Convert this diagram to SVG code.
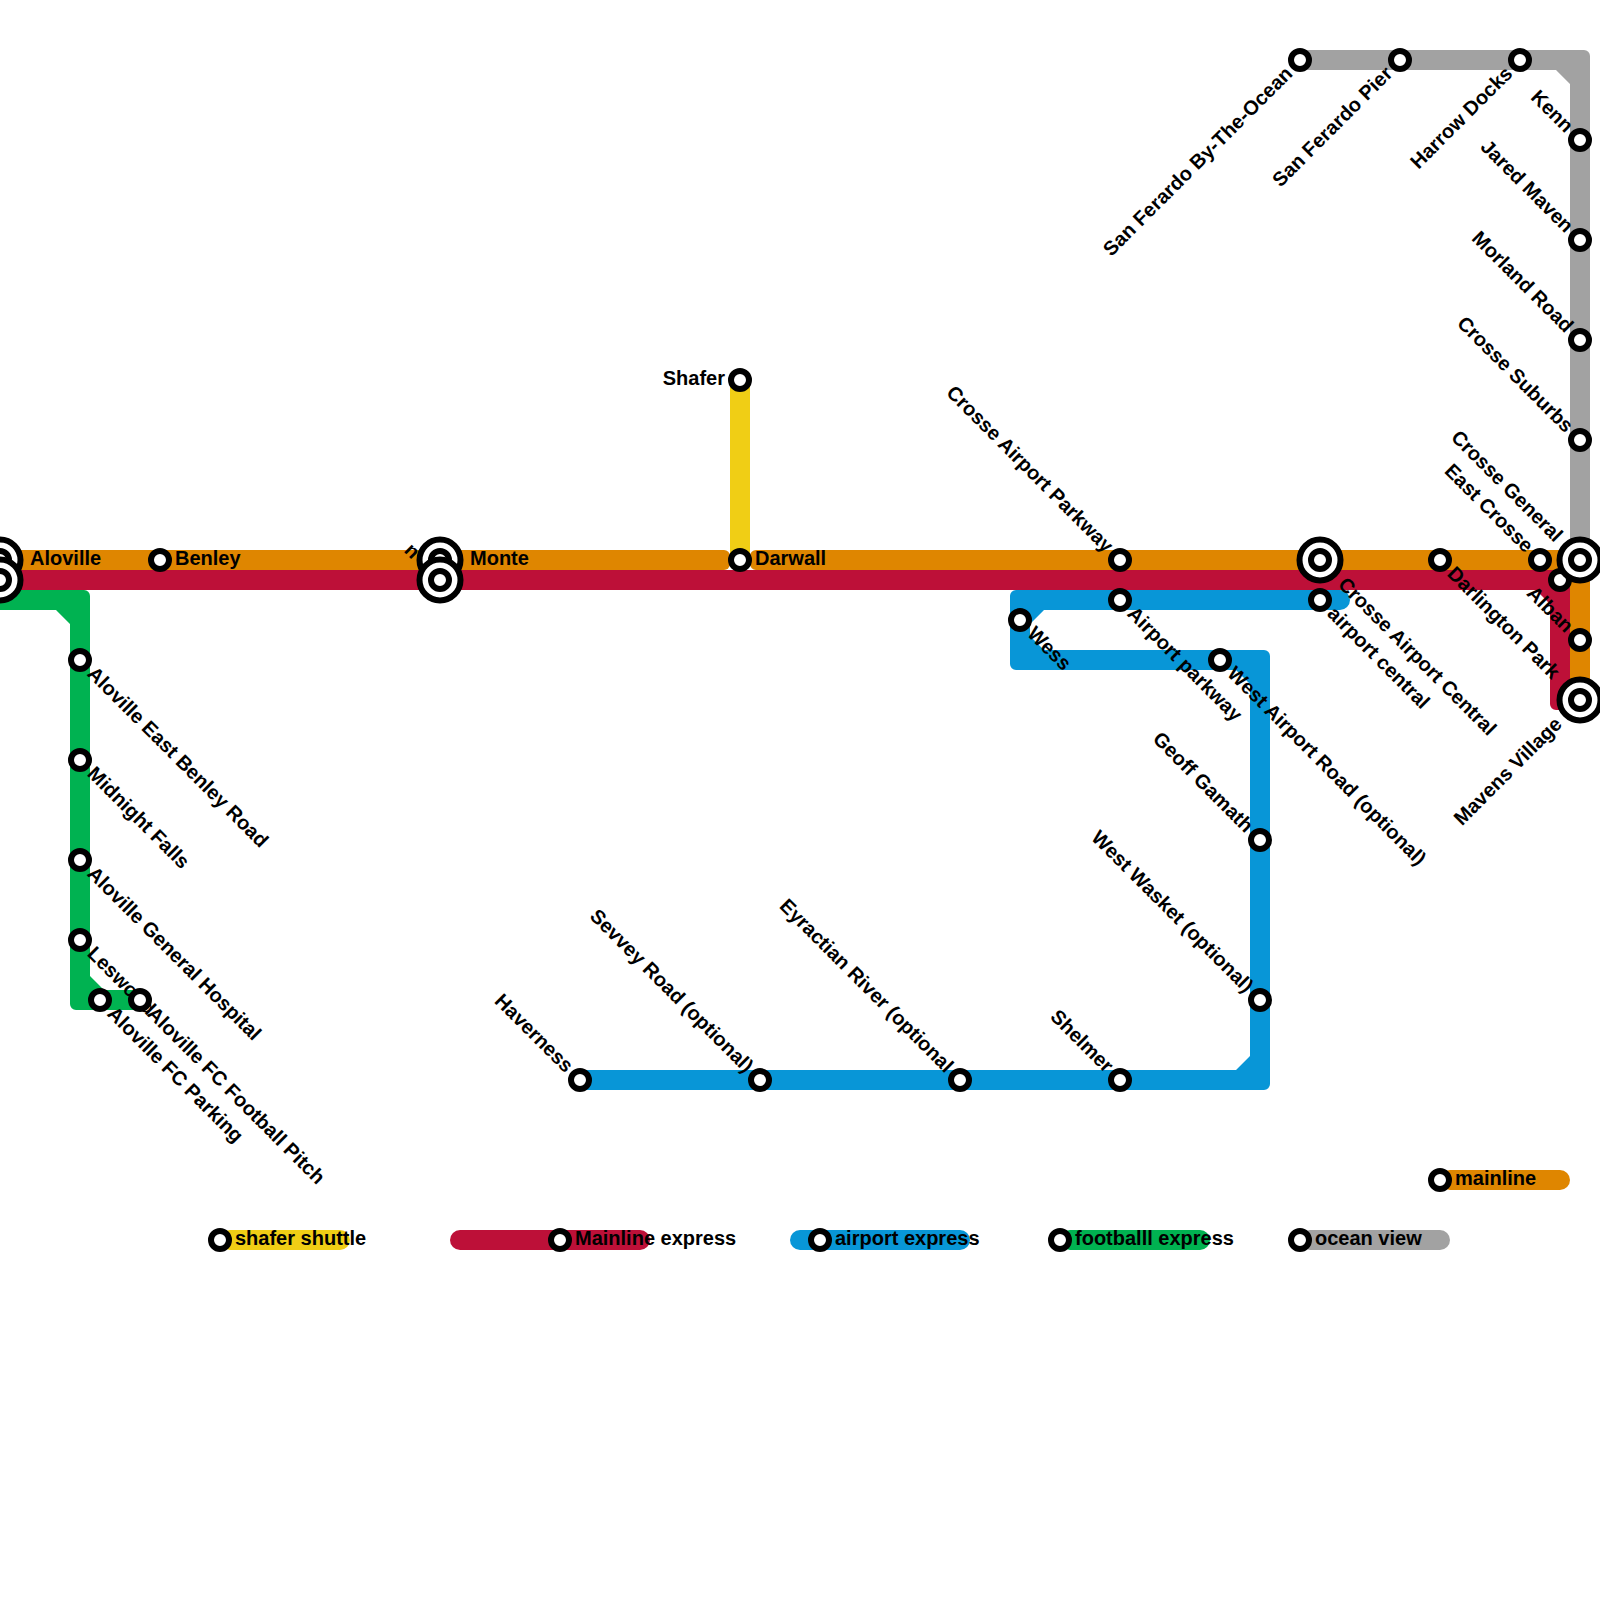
<svg xmlns="http://www.w3.org/2000/svg" width="1600" height="1600" viewBox="0 0 1600 1600">
<style>
text{font-family:"Liberation Sans",Arial,sans-serif;font-weight:bold;font-size:20px;fill:#000}
.o{fill:#df8600}.r{fill:#bd1038}.b{fill:#0896d7}.g{fill:#00b251}.y{fill:#f0ce15}.a{fill:#a2a2a2}
.ring{fill:#fff;stroke:#000;stroke-width:6}
.e{text-anchor:end}
</style>
<defs>
<circle id="s" class="ring" r="9"/>
<g id="B"><circle class="ring" r="20.500"/><circle class="ring" r="9"/></g>
</defs>
<g id="connectors">
<path id="line-ocean" class="a" d="M1300 50H1584a6 6 0 0 1 6 6V560H1570V84L1556 70H1300Z"/>
<path id="line-express" class="r" d="M-20 570H1570V710H1556a6 6 0 0 1-6-6V604L1536 590H-20Z"/>
<path id="line-main-a" class="o" d="M-20 550H724a6 6 0 0 1 6 6V564a6 6 0 0 1-6 6H-20Z"/>
<path id="line-main-b" class="o" d="M756 550H1590V700H1570V570H756a6 6 0 0 1-6-6V556a6 6 0 0 1 6-6Z"/>
<rect id="line-shuttle" class="y" x="730" y="370" width="20" height="200" rx="6"/>
<path id="line-airport" class="b" d="M1340 590a10 10 0 0 1 0 20H1044L1030 624V636L1044 650H1264a6 6 0 0 1 6 6V1084a6 6 0 0 1-6 6H580a10 10 0 0 1 0-20H1236L1250 1056V684L1236 670H1016a6 6 0 0 1-6-6V596a6 6 0 0 1 6-6Z"/>
<path id="line-football" class="g" d="M-20 590H84a6 6 0 0 1 6 6V976L104 990H140a10 10 0 0 1 0 20H76a6 6 0 0 1-6-6V624L56 610H-20Z"/>
<rect class="y" x="220" y="1230" width="130" height="20" rx="10"/>
<rect class="r" x="450" y="1230" width="200" height="20" rx="10"/>
<rect class="b" x="790" y="1230" width="180" height="20" rx="10"/>
<rect class="g" x="1060" y="1230" width="150" height="20" rx="10"/>
<rect class="a" x="1300" y="1230" width="150" height="20" rx="10"/>
<rect class="o" x="1440" y="1170" width="130" height="20" rx="10"/>
</g>
<g id="labels-hidden"><text transform="translate(411 550.500) rotate(45)" x="-5" y="6">n</text></g>
<g id="aloville"><use href="#B" x="0" y="560"/><text x="30" y="565">Aloville</text></g>
<g id="aloville-2"><use href="#B" x="0" y="580"/></g>
<g id="benley"><use href="#s" x="160" y="560"/><text x="175" y="565">Benley</text></g>
<g id="monte"><use href="#B" x="440" y="560"/><text x="470" y="565">Monte</text></g>
<g id="monte-2"><use href="#B" x="440" y="580"/></g>
<g id="darwall"><use href="#s" x="740" y="560"/><text x="755" y="565">Darwall</text></g>
<g id="shafer"><use href="#s" x="740" y="380"/><text x="725" y="385" class="e">Shafer</text></g>
<g id="east-benley"><use href="#s" x="80" y="660"/><text transform="translate(80 660) rotate(45)" x="15" y="6">Aloville East Benley Road</text></g>
<g id="midnight"><use href="#s" x="80" y="760"/><text transform="translate(80 760) rotate(45)" x="15" y="6">Midnight Falls</text></g>
<g id="general-hospital"><use href="#s" x="80" y="860"/><text transform="translate(80 860) rotate(45)" x="15" y="6">Aloville General Hospital</text></g>
<g id="leswood"><use href="#s" x="80" y="940"/><text transform="translate(80 940) rotate(45)" x="15" y="6">Leswood</text></g>
<g id="fc-parking"><use href="#s" x="100" y="1000"/><text transform="translate(100 1000) rotate(45)" x="15" y="6">Aloville FC Parking</text></g>
<g id="fc-pitch"><use href="#s" x="140" y="1000"/><text transform="translate(140 1000) rotate(45)" x="15" y="6">Aloville FC Football Pitch</text></g>
<g id="haverness"><use href="#s" x="580" y="1080"/><text transform="translate(580 1080) rotate(45)" x="-15" y="6" class="e">Haverness</text></g>
<g id="sevvey"><use href="#s" x="760" y="1080"/><text transform="translate(760 1080) rotate(45)" x="-15" y="6" class="e">Sevvey Road (optional)</text></g>
<g id="eyractian"><use href="#s" x="960" y="1080"/><text transform="translate(960 1080) rotate(45)" x="-15" y="6" class="e">Eyractian River (optional</text></g>
<g id="shelmer"><use href="#s" x="1120" y="1080"/><text transform="translate(1120 1080) rotate(45)" x="-15" y="6" class="e">Shelmer</text></g>
<g id="west-wasket"><use href="#s" x="1260" y="1000"/><text transform="translate(1260 1000) rotate(45)" x="-15" y="6" class="e">West Wasket (optional)</text></g>
<g id="geoff"><use href="#s" x="1260" y="840"/><text transform="translate(1260 840) rotate(45)" x="-15" y="6" class="e">Geoff Gamath</text></g>
<g id="wess"><use href="#s" x="1020" y="620"/><text transform="translate(1020 620) rotate(45)" x="15" y="6">Wess</text></g>
<g id="west-airport"><use href="#s" x="1220" y="660"/><text transform="translate(1220 660) rotate(45)" x="15" y="6">West Airport Road (optional)</text></g>
<g id="airport-parkway"><use href="#s" x="1120" y="600"/><text transform="translate(1120 600) rotate(45)" x="15" y="6">Airport parkway</text></g>
<g id="crosse-airport-parkway"><use href="#s" x="1120" y="560"/><text transform="translate(1120 560) rotate(45)" x="-15" y="6" class="e">Crosse Airport Parkway</text></g>
<g id="airport-central"><use href="#s" x="1320" y="600"/><text transform="translate(1320 600) rotate(45)" x="15" y="6">airport central</text></g>
<g id="crosse-airport-central"><use href="#B" x="1320" y="560"/><text transform="translate(1320 560) rotate(45)" x="30" y="6">Crosse Airport Central</text></g>
<g id="darlington"><use href="#s" x="1440" y="560"/><text transform="translate(1440 560) rotate(45)" x="15" y="6">Darlington Park</text></g>
<g id="east-crosse"><use href="#s" x="1540" y="560"/><text transform="translate(1540 560) rotate(45)" x="-15" y="6" class="e">East Crosse</text></g>
<g id="station-1560"><use href="#s" x="1560" y="580"/></g>
<g id="crosse-general"><use href="#B" x="1580" y="560"/><text transform="translate(1580 560) rotate(45)" x="-30" y="6" class="e">Crosse General</text></g>
<g id="alban"><use href="#s" x="1580" y="640"/><text transform="translate(1580 640) rotate(45)" x="-15" y="6" class="e">Alban</text></g>
<g id="mavens"><use href="#B" x="1580" y="700"/><text transform="translate(1580 700) rotate(-45)" x="-30" y="6" class="e">Mavens Village</text></g>
<g id="crosse-suburbs"><use href="#s" x="1580" y="440"/><text transform="translate(1580 440) rotate(45)" x="-15" y="6" class="e">Crosse Suburbs</text></g>
<g id="morland"><use href="#s" x="1580" y="340"/><text transform="translate(1580 340) rotate(45)" x="-15" y="6" class="e">Morland Road</text></g>
<g id="jared"><use href="#s" x="1580" y="240"/><text transform="translate(1580 240) rotate(45)" x="-15" y="6" class="e">Jared Maven</text></g>
<g id="kenn"><use href="#s" x="1580" y="140"/><text transform="translate(1580 140) rotate(45)" x="-15" y="6" class="e">Kenn</text></g>
<g id="harrow"><use href="#s" x="1520" y="60"/><text transform="translate(1520 60) rotate(-45)" x="-15" y="6" class="e">Harrow Docks</text></g>
<g id="pier"><use href="#s" x="1400" y="60"/><text transform="translate(1400 60) rotate(-45)" x="-15" y="6" class="e">San Ferardo Pier</text></g>
<g id="by-the-ocean"><use href="#s" x="1300" y="60"/><text transform="translate(1300 60) rotate(-45)" x="-15" y="6" class="e">San Ferardo By-The-Ocean</text></g>
<g id="legend-shafer"><use href="#s" x="220" y="1240"/><text x="235" y="1245">shafer shuttle</text></g>
<g id="legend-mainline-express"><use href="#s" x="560" y="1240"/><text x="575" y="1245">Mainline express</text></g>
<g id="legend-airport"><use href="#s" x="820" y="1240"/><text x="835" y="1245">airport express</text></g>
<g id="legend-football"><use href="#s" x="1060" y="1240"/><text x="1075" y="1245">footballl express</text></g>
<g id="legend-ocean"><use href="#s" x="1300" y="1240"/><text x="1315" y="1245">ocean view</text></g>
<g id="legend-mainline"><use href="#s" x="1440" y="1180"/><text x="1455" y="1185">mainline</text></g>
</svg>
